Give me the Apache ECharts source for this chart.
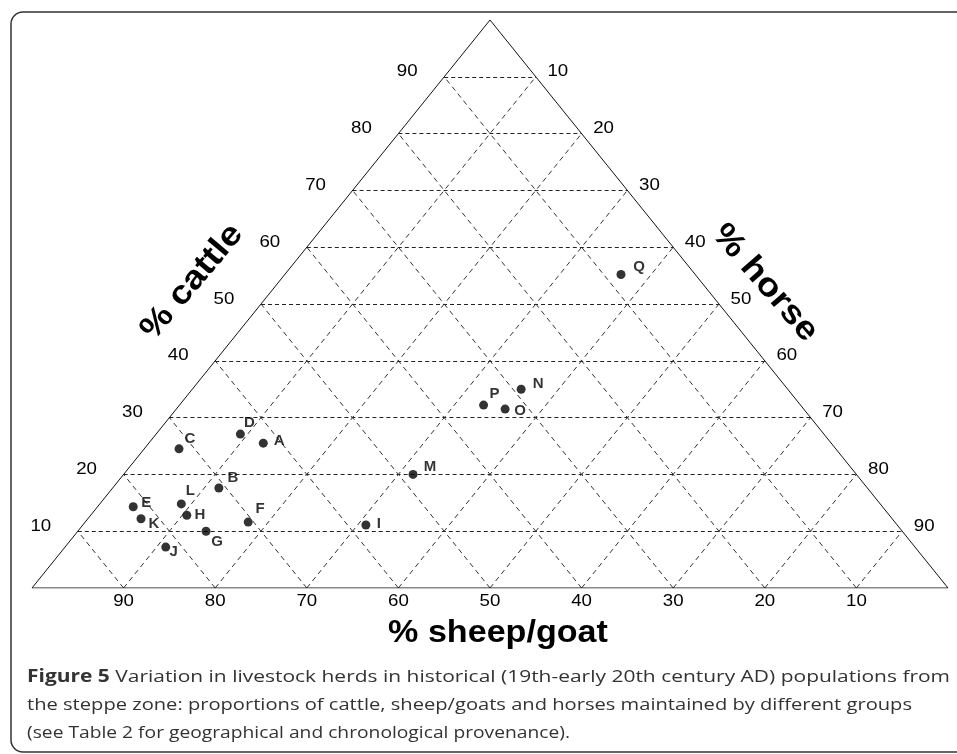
<!DOCTYPE html>
<html>
<head>
<meta charset="utf-8">
<script src="https://cdn.jsdelivr.net/npm/echarts@6/dist/echarts.min.js"></script>
<style>
  html, body { margin: 0; padding: 0; background: #fff; }
  #chart { width: 957px; height: 754px; }
</style>
</head>
<body>
<div id="chart"></div>
<script>
// herd groups (Table 2) and their percentages
var groups = ['A', 'B', 'C', 'D', 'E', 'F', 'G', 'H', 'I', 'J', 'K', 'L', 'M', 'N', 'O', 'P', 'Q'];
var cattle = [25.5, 17.6, 24.5, 27.1, 14.3, 11.6, 10.0, 12.8, 11.1, 7.2, 12.2, 14.8, 20.0, 35.0, 31.5, 32.2, 55.2];
var sheepGoat = [62.0, 70.8, 71.7, 63.7, 81.8, 70.6, 76.0, 76.7, 58.0, 81.8, 82.0, 76.3, 48.4, 29.1, 32.6, 34.6, 8.1];
var horse = [12.5, 11.6, 3.8, 9.2, 3.9, 17.8, 14.0, 10.5, 30.9, 11.0, 5.8, 8.9, 31.6, 35.9, 35.9, 33.2, 36.7];

// grid / tick values
var ticks = [10, 20, 30, 40, 50, 60, 70, 80, 90];

// caption
var captionLead = 'Figure 5';
var captionLines = [
  ' Variation in livestock herds in historical (19th-early 20th century AD) populations from',
  'the steppe zone: proportions of cattle, sheep/goats and horses maintained by different groups',
  '(see Table 2 for geographical and chronological provenance).'
];
var captionRight = [950, 912, 570];   // where each caption line ends

// label placement next to each dot
var labelOffsets = [[16, -2], [14, -10], [11, -10], [9, -11], [13, -4], [12, -13], [11, 11], [13, 0],
  [13, -1], [8, 5], [13, 5], [9, -13], [17, -8], [17, -5], [15, 2], [11, -11], [18, -8]];

// ternary (cattle, sheep, horse) -> plane; cattle at apex, sheep bottom-left, horse bottom-right
function tern(c, s, h) {
  var t = c + s + h;
  c = c / t * 100; h = h / t * 100;
  return [h + c / 2, c];
}

var outline = [tern(100, 0, 0), tern(0, 100, 0), tern(0, 0, 100), tern(100, 0, 0)];

var hLines = ticks.map(function (t) {
  return { coords: [tern(t, 100 - t, 0), tern(t, 0, 100 - t)] };
});
var dLines = [];
ticks.forEach(function (t) {
  dLines.push({ coords: [tern(0, 100 - t, t), tern(100 - t, 0, t)] });   // constant horse
  dLines.push({ coords: [tern(0, t, 100 - t), tern(100 - t, t, 0)] });   // constant sheep/goat
});

var points = groups.map(function (g, i) {
  var p = tern(cattle[i], sheepGoat[i], horse[i]);
  return { name: g, value: p, label: { offset: labelOffsets[i] } };
});

var FONT = '"Liberation Sans", Arial, sans-serif';
var CAP_FONT = '"Open Sans", sans-serif';

var myChart = echarts.init(document.getElementById('chart'), null, { renderer: 'canvas' });

var option = {
  backgroundColor: '#fff',
  animation: false,
  grid: { left: 32, right: 9, top: 20, bottom: 166 },
  xAxis: { type: 'value', min: 0, max: 100, show: false },
  yAxis: { type: 'value', min: 0, max: 100, show: false },
  series: [
    {
      type: 'lines', coordinateSystem: 'cartesian2d', silent: true,
      lineStyle: { color: '#222', width: 1, type: [4, 3], opacity: 1 },
      data: hLines
    },
    {
      type: 'lines', coordinateSystem: 'cartesian2d', silent: true,
      lineStyle: { color: '#333', width: 1, type: [5, 4], opacity: 1 },
      data: dLines
    },
    {
      type: 'line', data: outline, symbol: 'none', silent: true,
      lineStyle: { color: '#111', width: 1 }
    },
    {
      type: 'scatter', symbolSize: 9, data: points,
      itemStyle: { color: '#000' },
      label: {
        show: true, position: 'inside', formatter: '{b}',
        fontFamily: FONT, fontWeight: 'bold', fontSize: 15, color: '#000'
      }
    }
  ]
};

myChart.setOption(option);

// tick labels along the three edges, placed through the grid's own conversion
function tickText(pt, txt, dx, dy) {
  var px = myChart.convertToPixel({ gridIndex: 0 }, pt);
  return {
    type: 'text', x: px[0] + dx, y: px[1] + dy, scaleX: 1.1, silent: true,
    style: { text: String(txt), fontFamily: FONT, fontSize: 17, fill: '#000',
      align: 'center', verticalAlign: 'middle' }
  };
}

var graphics = [
  {
    type: 'rect', shape: { x: 11, y: 12, width: 980, height: 740, r: 12 },
    style: { fill: 'none', stroke: '#333', lineWidth: 1.5 }, silent: true
  }
];
ticks.forEach(function (t) {
  graphics.push(tickText(tern(t, 100 - t, 0), t, -37, -5));
  graphics.push(tickText(tern(t, 0, 100 - t), 100 - t, 22, -5));
  graphics.push(tickText(tern(0, t, 100 - t), t, 0, 13));
});

graphics.push(
  {
    type: 'text', x: 192, y: 282, rotation: 50 * Math.PI / 180, scaleX: 1.12,
    style: { text: '% cattle', fontFamily: FONT, fontWeight: 'bold', fontSize: 33,
      fill: '#000', align: 'center', verticalAlign: 'middle' }
  },
  {
    type: 'text', x: 765, y: 283, rotation: -49 * Math.PI / 180, scaleX: 1.12,
    style: { text: '% horse', fontFamily: FONT, fontWeight: 'bold', fontSize: 33,
      fill: '#000', align: 'center', verticalAlign: 'middle' }
  },
  {
    type: 'text', x: 498, y: 633, scaleX: 1.1,
    style: { text: '% sheep/goat', fontFamily: FONT, fontWeight: 'bold', fontSize: 31,
      fill: '#000', align: 'center', verticalAlign: 'middle' }
  }
);

// caption: each line stretched to the width it has in the figure
var ctx = document.createElement('canvas').getContext('2d');
function textW(txt, bold) {
  ctx.font = (bold ? 'bold ' : '') + '17px ' + CAP_FONT;
  return ctx.measureText(txt).width;
}
captionLines.forEach(function (line, i) {
  var w = textW(line, false) + (i === 0 ? textW(captionLead, true) : 0);
  var left = 27;
  graphics.push({
    type: 'text', x: left, y: 677 + i * 28, scaleX: (captionRight[i] - left) / w, silent: true,
    style: {
      text: (i === 0 ? '{b|' + captionLead + '}' : '') + line,
      fontFamily: CAP_FONT, fontSize: 17, fill: '#333', verticalAlign: 'middle',
      rich: { b: { fontFamily: CAP_FONT, fontWeight: 'bold', fontSize: 17, fill: '#333', verticalAlign: 'middle' } }
    }
  });
});

myChart.setOption({ graphic: graphics });
</script>
</body>
</html>
